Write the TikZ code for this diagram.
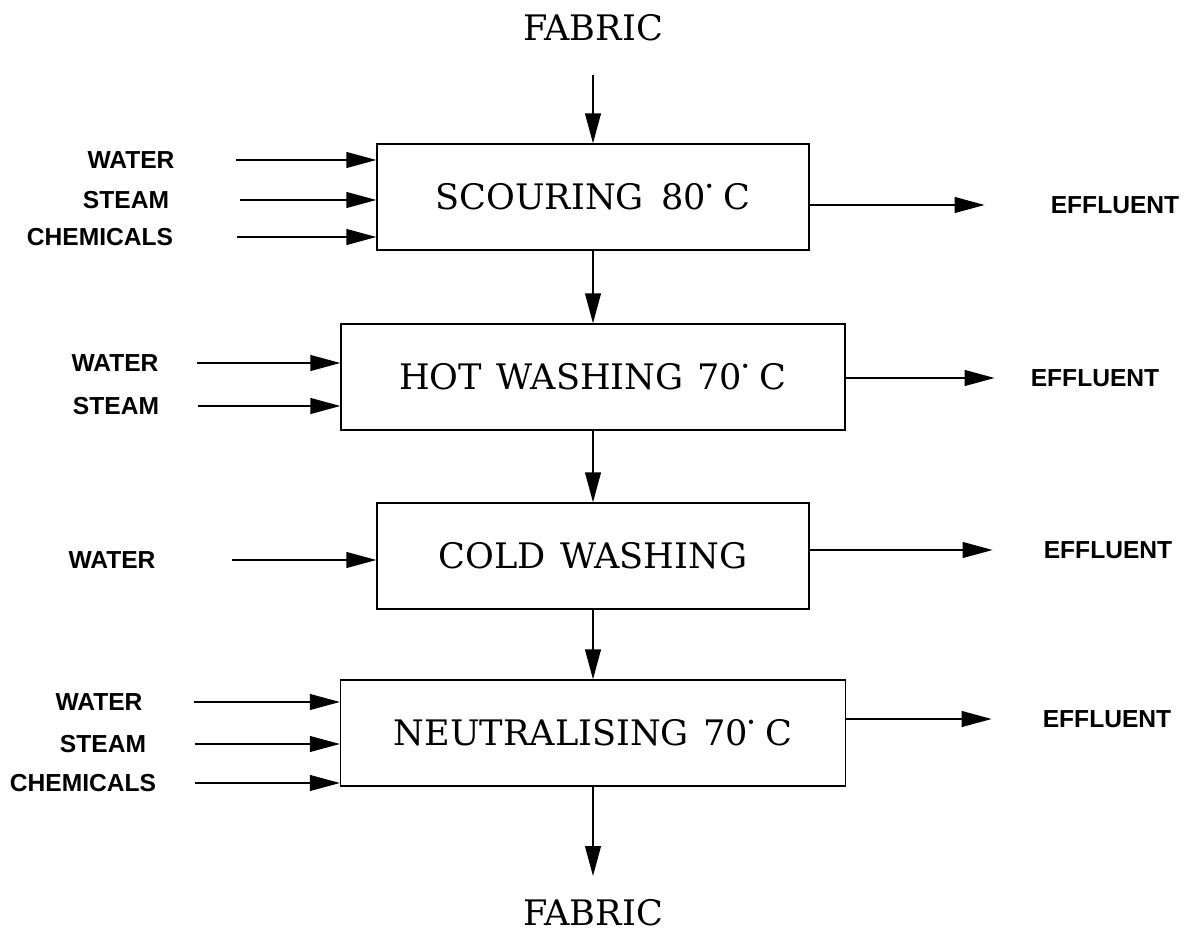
\documentclass[tikz,border=0pt]{standalone}
\usepackage{fontspec}
\newfontfamily\tagfont{Liberation Sans}
\newfontfamily\procfont{DejaVu Serif}
\usetikzlibrary{arrows.meta,positioning}
\newcommand\degdot{\raisebox{0.62em}{\tiny$\bullet$}}

\begin{document}
\begin{tikzpicture}[x=0.02cm, y=-0.02cm,
        proc/.style={rectangle, draw, line width=0.8pt, minimum width=#1,
                     minimum height=2.12cm, inner sep=0pt,
                     font=\procfont\fontsize{20}{24}\selectfont},
        tag/.style={font=\tagfont\bfseries\fontsize{14}{16}\selectfont},
        flow/.style={-{Triangle[length=17pt,width=9pt]}, line width=0.8pt},
        big/.style={font=\procfont\fontsize{20}{24}\selectfont},
      ]
      \useasboundingbox (0,0) rectangle (1200,945);
      % process boxes
      \node[proc=8.64cm]  (scour) at (593,197) {SCOURING\hspace{0.5em}80\degdot\ C};
      \node[proc=10.08cm] (hot)   at (593,377) {HOT\hspace{0.4em}WASHING\hspace{0.4em}70\degdot\ C};
      \node[proc=8.64cm]  (cold)  at (593,556) {COLD\hspace{0.4em}WASHING};
      \node[proc=10.1cm]  (neut)  at (593,733) {NEUTRALISING\hspace{0.4em}70\degdot\ C};
      \node[big] (fin)  at (593,28)  {FABRIC};
      \node[big] (fout) at (593,913) {FABRIC};
      % fabric path
      \draw[flow, shorten <=0.55cm] (fin)  -- (scour);
      \draw[flow] (scour) -- (hot);
      \draw[flow] (hot)   -- (cold);
      \draw[flow] (cold)  -- (neut);
      \draw[flow, shorten >=0.35cm] (neut) -- (fout);
      % inputs
      \node[tag] (w1) at (131,160) {WATER};
      \node[tag] (s1) at (126,200) {STEAM};
      \node[tag] (c1) at (100,237) {CHEMICALS};
      \draw[flow, shorten <=1.1cm]  (w1.east) -- (w1 -| scour.west);
      \draw[flow, shorten <=1.3cm]  (s1.east) -- (s1 -| scour.west);
      \draw[flow, shorten <=1.15cm] (c1.east) -- (c1 -| scour.west);
      \node[tag] (w2) at (115,363) {WATER};
      \node[tag] (s2) at (116,406) {STEAM};
      \draw[flow, shorten <=0.65cm] (w2.east) -- (w2 -| hot.west);
      \draw[flow, shorten <=0.65cm] (s2.east) -- (s2 -| hot.west);
      \node[tag] (w3) at (112,560) {WATER};
      \draw[flow, shorten <=1.4cm]  (w3.east) -- (w3 -| cold.west);
      \node[tag] (w4) at (99,702)  {WATER};
      \node[tag] (s4) at (103,744) {STEAM};
      \node[tag] (c4) at (83,783)  {CHEMICALS};
      \draw[flow, shorten <=0.9cm]  (w4.east) -- (w4 -| neut.west);
      \draw[flow, shorten <=0.85cm] (s4.east) -- (s4 -| neut.west);
      \draw[flow, shorten <=0.65cm] (c4.east) -- (c4 -| neut.west);
      % effluents
      \node[tag] (e1) at (1115,205) {EFFLUENT};
      \node[tag] (e2) at (1095,378) {EFFLUENT};
      \node[tag] (e3) at (1108,550) {EFFLUENT};
      \node[tag] (e4) at (1107,719) {EFFLUENT};
      \draw[flow, shorten >=1.2cm] (scour.east |- e1) -- (e1.west);
      \draw[flow, shorten >=0.6cm] (hot.east |- e2)   -- (e2.west);
      \draw[flow, shorten >=0.9cm] (cold.east |- e3)  -- (e3.west);
      \draw[flow, shorten >=0.9cm] (neut.east |- e4)  -- (e4.west);
    \end{tikzpicture}
\end{document}
